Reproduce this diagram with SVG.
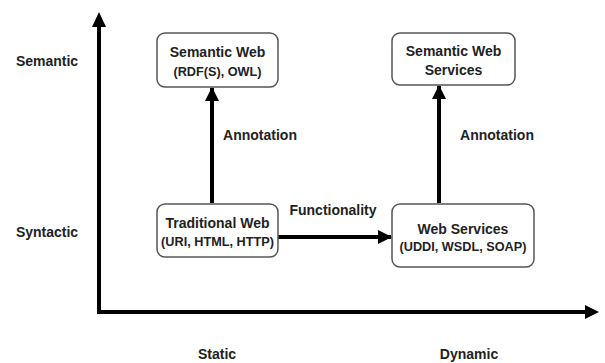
<svg xmlns="http://www.w3.org/2000/svg" width="605" height="363" viewBox="0 0 605 363">
<style>
text{font-family:"Liberation Sans",Arial,sans-serif;font-weight:bold;font-size:14px;fill:#222;text-anchor:middle}
text.sub{font-size:12.7px}
.box{fill:#fff;stroke:#555;stroke-width:1.5}
.conn{stroke:#000;stroke-width:4;fill:none}
.axis{stroke:#000;stroke-width:4;fill:none}
</style>
<defs>
<marker id="ah" markerUnits="userSpaceOnUse" markerWidth="14" markerHeight="14" refX="13" refY="7" orient="auto">
<path d="M0,0 L14,7 L0,14 Z" fill="#000"/>
</marker>
</defs>
<rect width="605" height="363" fill="#fff"/>
<g id="axes">
<polyline class="axis" points="99,26 99,312 586,312"/>
<path d="M92,27 L99,12 L106,27 Z" fill="#000"/>
<path d="M585,305 L599,312 L585,319 Z" fill="#000"/>
</g>
<g id="labels">
<text x="47" y="66">Semantic</text>
<text x="47" y="237">Syntactic</text>
<text x="217" y="359">Static</text>
<text x="469" y="359">Dynamic</text>
</g>
<g id="connectors">
<line class="conn" x1="212" y1="203" x2="212" y2="88" marker-end="url(#ah)"/>
<line class="conn" x1="439" y1="203" x2="439" y2="86" marker-end="url(#ah)"/>
<line class="conn" x1="278" y1="237" x2="391" y2="237" marker-end="url(#ah)"/>
<text x="260" y="140">Annotation</text>
<text x="497" y="140">Annotation</text>
<text x="333" y="215">Functionality</text>
</g>
<g id="semantic-web">
<rect class="box" x="157" y="33" width="121" height="54" rx="8"/>
<text x="217.5" y="57">Semantic Web</text>
<text class="sub" x="217.5" y="76">(RDF(S), OWL)</text>
</g>
<g id="semantic-web-services">
<rect class="box" x="392" y="33" width="123" height="52" rx="8"/>
<text x="453.5" y="56">Semantic Web</text>
<text x="453.5" y="75">Services</text>
</g>
<g id="traditional-web">
<rect class="box" x="157" y="204" width="121" height="53" rx="8"/>
<text x="217.5" y="228">Traditional Web</text>
<text class="sub" x="217.5" y="246">(URI, HTML, HTTP)</text>
</g>
<g id="web-services">
<rect class="box" x="392" y="204" width="142" height="63" rx="8"/>
<text x="463" y="234">Web Services</text>
<text class="sub" x="463" y="251">(UDDI, WSDL, SOAP)</text>
</g>
</svg>
